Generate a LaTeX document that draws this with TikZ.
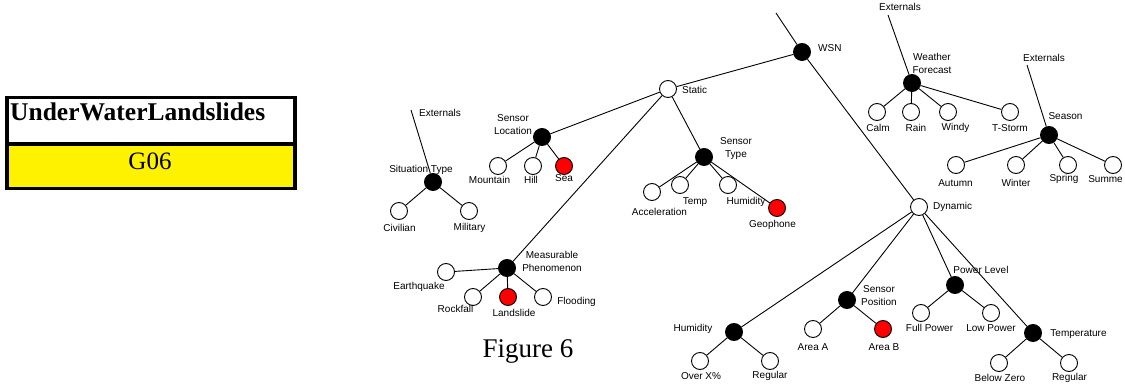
\documentclass[tikz,border=0pt]{standalone}
\usepackage{fontspec}
\setmainfont{Liberation Serif}
\newfontfamily\labfont{Liberation Sans}
\begin{document}
\begin{tikzpicture}[x=1pt,y=-1pt,
  wn/.style={circle,draw=black,fill=white,line width=0.9pt,minimum size=17pt,inner sep=0pt},
  bn/.style={wn,fill=black},
  rn/.style={wn,fill=red},
  lb/.style={inner sep=0pt,font=\labfont\fontsize{10}{13}\selectfont,align=center},
  edge/.style={line width=0.9pt}]
\useasboundingbox (0,0) rectangle (1125,387);
% title box
\fill[white] (7,97.5) rectangle (295,144);
\fill[yellow] (7,144) rectangle (295,188.5);
\draw[line width=3.3pt] (7,97.5) rectangle (295,188.5);
\draw[line width=3.3pt] (7,144) -- (295,144);
\node[anchor=base west,inner sep=0pt,font=\fontsize{25.5}{30}\selectfont\bfseries] (title) at (10,121) {UnderWaterLandslides};
\node[inner sep=0pt,font=\fontsize{25}{30}\selectfont] (gid) at (150,161) {G06};
\node[inner sep=0pt,font=\fontsize{27}{32}\selectfont] (fig) at (528,351) {Figure 6};

% nodes
\node[bn] (wsn) at (802,52) {};
\node[wn] (static) at (668,89) {};
\node[wn] (dyn) at (919,207) {};
\node[bn] (sloc) at (542,137) {};
\node[bn] (stype) at (704,157) {};
\node[bn] (meas) at (507,268) {};
\node[bn] (sit) at (433,182) {};
\node[wn] (civ) at (399,211) {};
\node[wn] (mil) at (469,211) {};
\node[wn] (mount) at (498,166) {};
\node[wn] (hill) at (533,166) {};
\node[rn] (sea) at (564,166) {};
\node[wn] (acc) at (652,192) {};
\node[wn] (temp) at (680,185) {};
\node[wn] (hum) at (728,185) {};
\node[rn] (geo) at (777,208) {};
\node[wn] (eq) at (446,272) {};
\node[wn] (rock) at (473,297) {};
\node[rn] (land) at (508,297) {};
\node[wn] (flood) at (543,297) {};
\node[bn] (dhum) at (734,332) {};
\node[wn] (over) at (700,361) {};
\node[wn] (reg1) at (770,361) {};
\node[bn] (spos) at (847,300) {};
\node[wn] (areaa) at (813,329) {};
\node[rn] (areab) at (883,329) {};
\node[bn] (pow) at (955,285) {};
\node[wn] (full) at (921,313) {};
\node[wn] (low) at (991,313) {};
\node[bn] (tmp) at (1033,333) {};
\node[wn] (below) at (999,363) {};
\node[wn] (reg2) at (1069,363) {};
\node[bn] (wf) at (912,83) {};
\node[wn] (calm) at (877,112) {};
\node[wn] (rain) at (911,112) {};
\node[wn] (windy) at (948,112) {};
\node[wn] (storm) at (1010,112) {};
\node[bn] (season) at (1049,135) {};
\node[wn] (autumn) at (956,165) {};
\node[wn] (winter) at (1016,165) {};
\node[wn] (spring) at (1068,165) {};
\node[wn] (summer) at (1113,165) {};

% free ends
\coordinate (topw) at (776,13);
\coordinate (ext1) at (411,110);
\coordinate (ext2) at (888,15);
\coordinate (ext3) at (1027,65);

% connectors
\draw[edge] (topw) -- (wsn);
\draw[edge] (ext1) -- (sit);
\draw[edge] (ext2) -- (wf);
\draw[edge] (ext3) -- (season);
\draw[edge] (wsn) -- (static);
\draw[edge] (wsn) -- (dyn);
\draw[edge] (static) -- (sloc);
\draw[edge] (static) -- (stype);
\draw[edge] (static) -- (meas);
\draw[edge] (sit) -- (civ);
\draw[edge] (sit) -- (mil);
\draw[edge] (sloc) -- (mount);
\draw[edge] (sloc) -- (hill);
\draw[edge] (sloc) -- (sea);
\draw[edge] (stype) -- (acc);
\draw[edge] (stype) -- (temp);
\draw[edge] (stype) -- (hum);
\draw[edge] (stype) -- (geo);
\draw[edge] (meas) -- (eq);
\draw[edge] (meas) -- (rock);
\draw[edge] (meas) -- (land);
\draw[edge] (meas) -- (flood);
\draw[edge] (dyn) -- (dhum);
\draw[edge] (dyn) -- (spos);
\draw[edge] (dyn) -- (pow);
\draw[edge] (dyn) -- (tmp);
\draw[edge] (dhum) -- (over);
\draw[edge] (dhum) -- (reg1);
\draw[edge] (spos) -- (areaa);
\draw[edge] (spos) -- (areab);
\draw[edge] (pow) -- (full);
\draw[edge] (pow) -- (low);
\draw[edge] (tmp) -- (below);
\draw[edge] (tmp) -- (reg2);
\draw[edge] (wf) -- (calm);
\draw[edge] (wf) -- (rain);
\draw[edge] (wf) -- (windy);
\draw[edge] (wf) -- (storm);
\draw[edge] (season) -- (autumn);
\draw[edge] (season) -- (winter);
\draw[edge] (season) -- (spring);
\draw[edge] (season) -- (summer);

% labels
\node[lb,anchor=west] (lwsn) at (818,48) {WSN};
\node[lb,anchor=west] (lstatic) at (682,90) {Static};
\node[lb,anchor=west] (ldyn) at (933,207) {Dynamic};
\node[lb] (lsloc) at (513,125) {Sensor\\Location};
\node[lb] (lstype) at (736,149) {Sensor\\Type};
\node[lb] (lmeas) at (552,261) {Measurable\\Phenomenon};
\node[lb] (lsit) at (421,170) {Situation Type};
\node[lb] (lext1) at (440,113) {Externals};
\node[lb] (lciv) at (399.5,228) {Civilian};
\node[lb] (lmil) at (469.5,228) {Military};
\node[lb] (lmount) at (489.5,180) {Mountain};
\node[lb] (lhill) at (531,180) {Hill};
\node[lb] (lsea) at (564,178) {Sea};
\node[lb] (lacc) at (659.5,212) {Acceleration};
\node[lb] (ltemp) at (695,202) {Temp};
\node[lb] (lhum) at (746,202) {Humidity};
\node[lb] (lgeo) at (772.5,225) {Geophone};
\node[lb] (leq) at (419,287) {Earthquake};
\node[lb] (lrock) at (455.5,309) {Rockfall};
\node[lb] (lland) at (514,313) {Landslide};
\node[lb] (lflood) at (576.5,302) {Flooding};
\node[lb] (ldhum) at (693,329) {Humidity};
\node[lb] (lover) at (701,376) {Over X\%};
\node[lb] (lreg1) at (770,376) {Regular};
\node[lb] (lspos) at (879,296) {Sensor\\Position};
\node[lb] (lareaa) at (813,347) {Area A};
\node[lb] (lareab) at (884,347) {Area B};
\node[lb] (lpow) at (981,270) {Power Level};
\node[lb] (lfull) at (929.5,328) {Full Power};
\node[lb] (llow) at (991,328) {Low Power};
\node[lb] (ltmp) at (1078.5,334) {Temperature};
\node[lb] (lbelow) at (1000,378) {Below Zero};
\node[lb] (lreg2) at (1069.5,378) {Regular};
\node[lb] (lwf) at (932,63) {Weather\\Forecast};
\node[lb] (lext2) at (900,7) {Externals};
\node[lb] (lcalm) at (878,128) {Calm};
\node[lb] (lrain) at (916,128) {Rain};
\node[lb] (lwindy) at (955.5,128) {Windy};
\node[lb] (lstorm) at (1010,128) {T-Storm};
\node[lb] (lseason) at (1065.5,116) {Season};
\node[lb] (lext3) at (1044,58) {Externals};
\node[lb] (lautumn) at (955.5,183) {Autumn};
\node[lb] (lwinter) at (1016,183) {Winter};
\node[lb] (lspring) at (1064,179) {Spring};
\node[lb] (lsummer) at (1105.5,179) {Summe};
\end{tikzpicture}
\end{document}
